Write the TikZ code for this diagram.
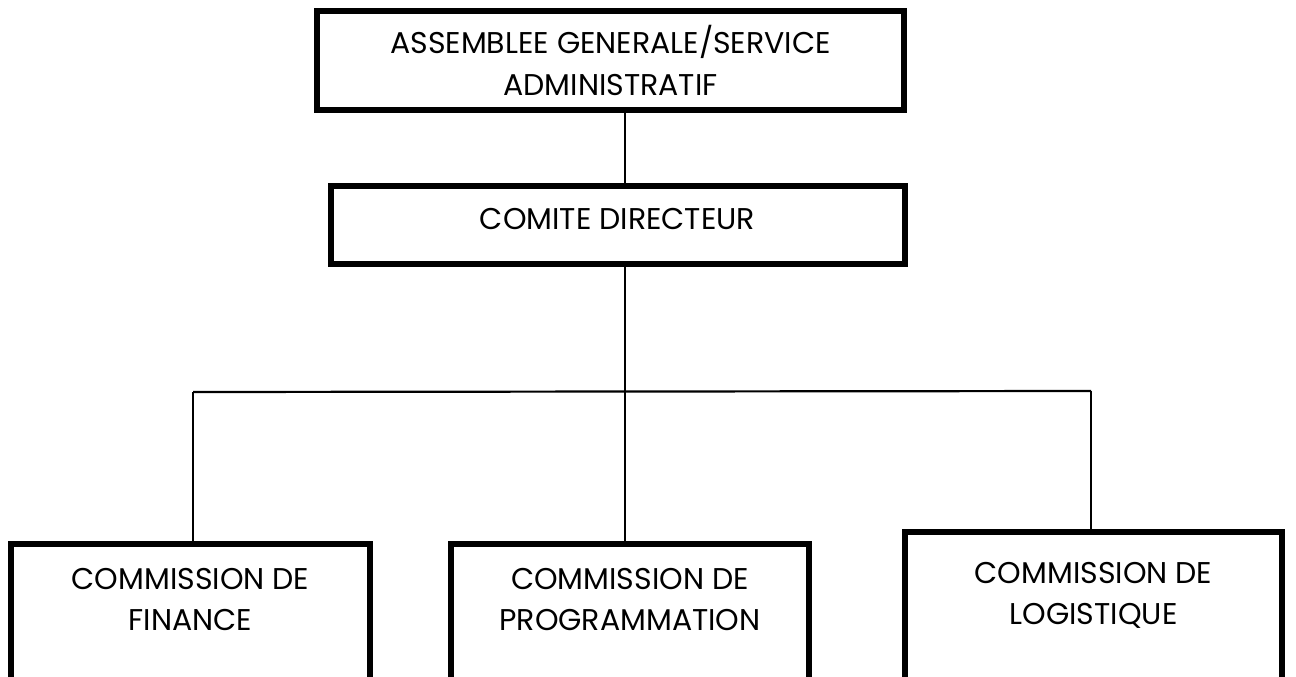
\documentclass[tikz,border=0pt]{standalone}
\usepackage{fontspec}
\setmainfont{Poppins}
\begin{document}
\begin{tikzpicture}[x=1pt,y=-1pt,
  box/.style={draw=black, line width=6pt, inner sep=0pt, anchor=base,
    font=\fontsize{30}{41.5}\selectfont},
  link/.style={draw=black, line width=2.2pt}]
\useasboundingbox (0,0) rectangle (1296,677);
\fill[white] (0,0) rectangle (1296,677);
\clip (0,0) rectangle (1296,677);
\node[box, text height=43pt, text depth=56pt, minimum width=587pt] (top) at (610.5,54)
  {\begin{tabular}[t]{@{}c@{}}ASSEMBLEE GENERALE/SERVICE\\ADMINISTRATIF\end{tabular}};
\node[box, text height=43pt, text depth=35pt, minimum width=574pt] (comite) at (617.5,229)
  {COMITE DIRECTEUR};
\node[box, text height=45pt, text depth=111pt, minimum width=359pt] (fin) at (190.5,589)
  {\begin{tabular}[t]{@{}c@{}}COMMISSION DE\\FINANCE\end{tabular}};
\node[box, text height=45pt, text depth=111pt, minimum width=358pt] (prog) at (630,589)
  {\begin{tabular}[t]{@{}c@{}}COMMISSION DE\\PROGRAMMATION\end{tabular}};
\node[box, text height=51pt, text depth=117pt, minimum width=377pt] (log) at (1093.5,583)
  {\begin{tabular}[t]{@{}c@{}}COMMISSION DE\\LOGISTIQUE\end{tabular}};
\coordinate (jc) at (625,392);
\coordinate (jl) at (193,392);
\coordinate (jr) at (1091,391);
\draw[link] (top.south -| jc) -- (comite.north -| jc);
\draw[link] (comite.south -| jc) -- (prog.north -| jc);
\draw[link] (jl) -- (jr);
\draw[link] (jl) -- (fin.north -| jl);
\draw[link] (jr) -- (log.north -| jr);
\end{tikzpicture}
\end{document}
